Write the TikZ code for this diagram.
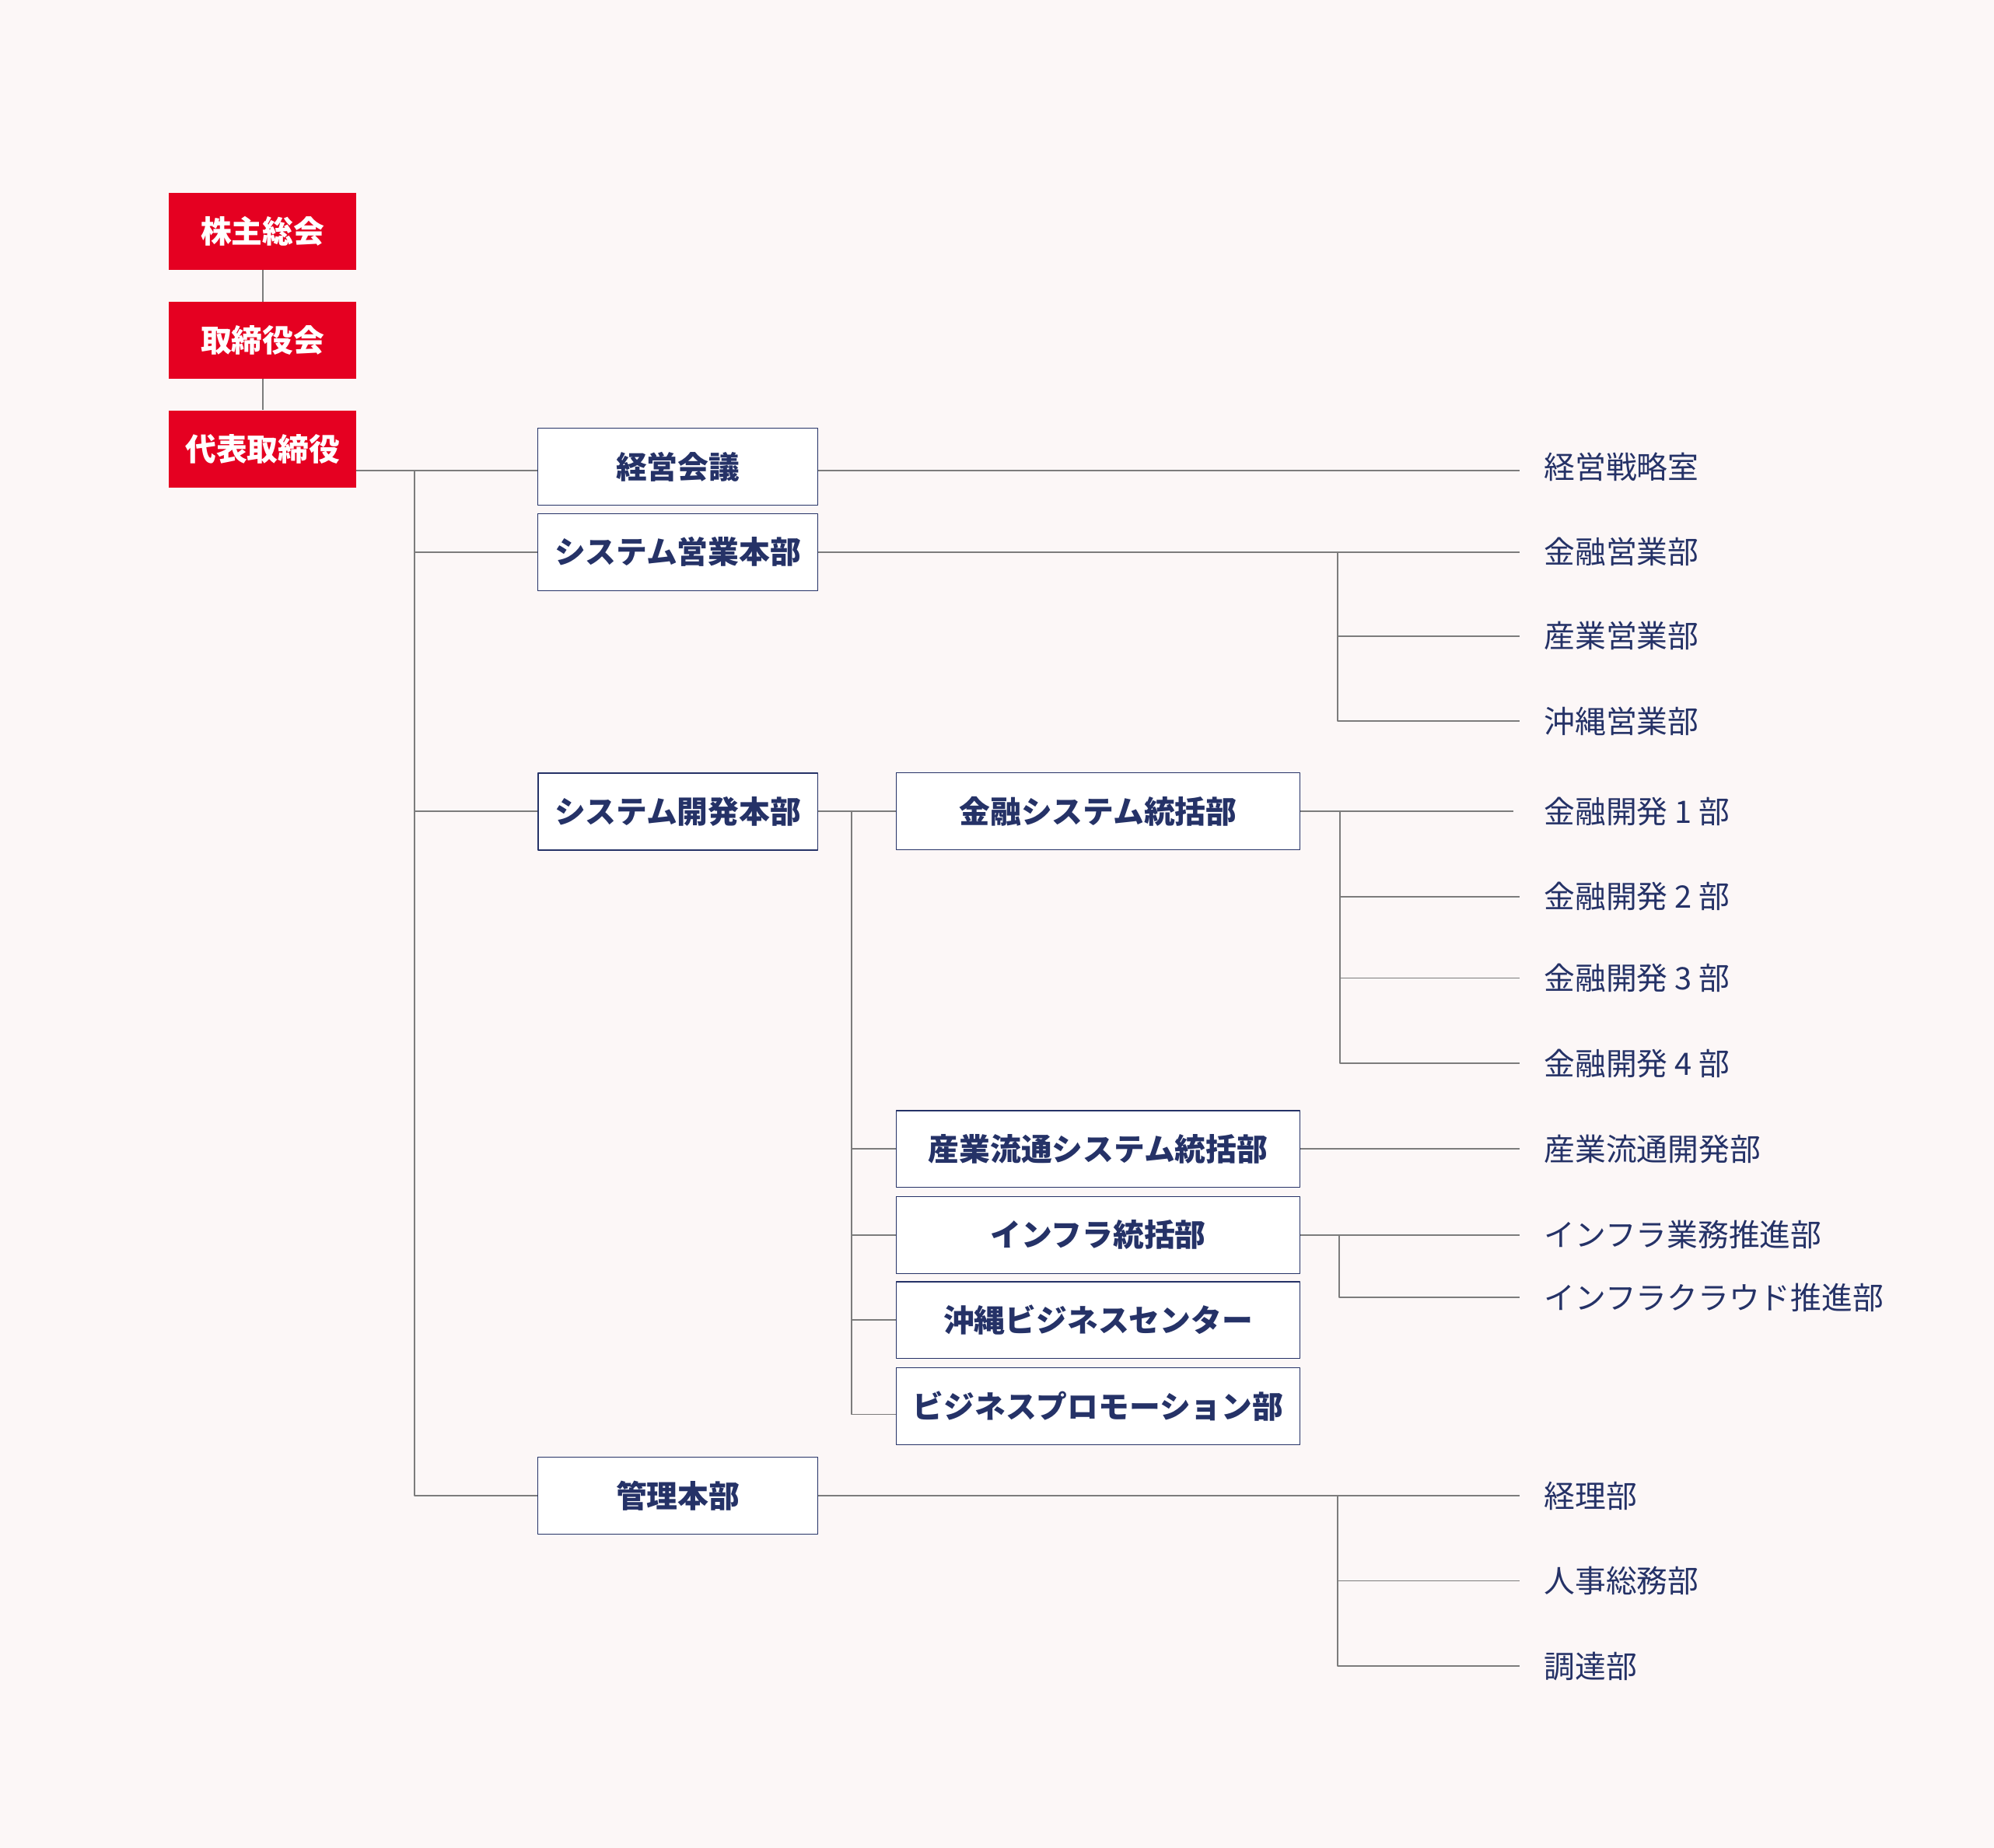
\documentclass[tikz,border=0pt]{standalone}
\usepackage{fontspec}
\setmainfont{Noto Sans CJK JP}
\definecolor{paper}{HTML}{FCF7F7}
\definecolor{corpred}{HTML}{E50021}
\definecolor{navy}{HTML}{253267}
\definecolor{linegray}{HTML}{7C7C7C}
\tikzset{
  topbox/.style={fill=corpred, text=white, inner sep=0pt,
    font=\bfseries\fontsize{17.3}{20}\selectfont,
    minimum width=3.675cm, minimum height=1.51cm},
  headbox/.style={draw=navy, fill=white, text=navy, line width=0.5pt, inner sep=0pt,
    font=\bfseries\fontsize{17.3}{20}\selectfont,
    minimum width=5.5cm, minimum height=1.51cm},
  subbox/.style={headbox, minimum width=7.925cm},
  dept/.style={anchor=west, text=navy, inner sep=0pt,
    font=\fontsize{17.3}{20}\selectfont},
  link/.style={draw=linegray, line width=0.8pt},
}
\begin{document}
\begin{tikzpicture}[x=0.025cm, y=-0.025cm, line join=round]
  \fill[paper] (0,0) rectangle (1568,1453);
  \useasboundingbox (0,0) rectangle (1568,1453);
  % board
  \node[topbox] (kabu) at (206.5,182) {株主総会};
  \node[topbox] (tori) at (206.5,267.5) {取締役会};
  \node[topbox] (daihyo) at (206.5,353) {代表取締役};
  \draw[link] (kabu) -- (tori);
  \draw[link] (tori) -- (daihyo);
  % head offices
  \node[headbox] (kaigi) at (533,367) {経営会議};
  \node[headbox] (eigyo) at (533,434) {システム営業本部};
  \node[headbox, line width=0.85pt] (kaihatsu) at (533,638) {システム開発本部};
  \node[headbox] (kanri) at (533,1176) {管理本部};
  \coordinate (t1) at (326,370);
  \draw[link] (daihyo.east |- t1) -- (kaigi.west |- t1);
  \draw[link] (t1) |- (kanri);
  \draw[link] (t1 |- eigyo) -- (eigyo);
  \draw[link] (t1 |- kaihatsu) -- (kaihatsu);
  % divisions
  \node[subbox] (kinsys) at (863.5,638) {金融システム統括部};
  \node[subbox] (sansys) at (863.5,903.5) {産業流通システム統括部};
  \node[subbox] (infra) at (863.5,971) {インフラ統括部};
  \node[subbox] (okisys) at (863.5,1038) {沖縄ビジネスセンター};
  \node[subbox] (promo) at (863.5,1105.5) {ビジネスプロモーション部};
  \coordinate (dj) at (669.5,638);
  \draw[link] (kaihatsu) -- (kinsys);
  \draw[link] (dj) |- ([yshift=-0.165cm]promo.west);
  \draw[link] (dj |- sansys) -- (sansys);
  \draw[link] (dj |- infra) -- (infra);
  \draw[link] (dj |- okisys) -- (okisys);
  % departments
  \node[dept] (senryaku) at (1214,367) {経営戦略室};
  \draw[link] (kaigi.east |- t1) -- ([xshift=-0.475cm]senryaku.west |- t1);
  \node[dept] (kinE) at (1214,434) {金融営業部};
  \node[dept] (sanE) at (1214,500) {産業営業部};
  \node[dept] (okiE) at (1214,567) {沖縄営業部};
  \coordinate (sj) at (1052,434);
  \draw[link] (eigyo) -- ([xshift=-0.475cm]kinE.west);
  \draw[link] (sj) |- ([xshift=-0.475cm]okiE.west);
  \draw[link] (sj |- sanE) -- ([xshift=-0.475cm]sanE.west);
  \node[dept] (kd1) at (1214,638) {金融開発 1 部};
  \node[dept] (kd2) at (1214,705) {金融開発 2 部};
  \node[dept] (kd3) at (1214,769) {金融開発 3 部};
  \node[dept] (kd4) at (1214,836) {金融開発 4 部};
  \coordinate (fj) at (1053.5,638);
  \draw[link] (kinsys) -- ([xshift=-0.6cm]kd1.west);
  \draw[link] (fj) |- ([xshift=-0.475cm]kd4.west);
  \draw[link] (fj |- kd2) -- ([xshift=-0.475cm]kd2.west);
  \draw[link] (fj |- kd3) -- ([xshift=-0.475cm]kd3.west);
  \node[dept] (sd) at (1214,903.5) {産業流通開発部};
  \draw[link] (sansys) -- ([xshift=-0.475cm]sd.west);
  \node[dept] (ib1) at (1214,971) {インフラ業務推進部};
  \node[dept] (ib2) at (1214,1020) {インフラクラウド推進部};
  \coordinate (ij) at (1053,971);
  \draw[link] (infra) -- ([xshift=-0.475cm]ib1.west);
  \draw[link] (ij) |- ([xshift=-0.475cm]ib2.west);
  \node[dept] (keiri) at (1214,1176) {経理部};
  \node[dept] (jinji) at (1214,1243) {人事総務部};
  \node[dept] (chotatsu) at (1214,1310) {調達部};
  \coordinate (mj) at (1052,1176);
  \draw[link] (kanri) -- ([xshift=-0.475cm]keiri.west);
  \draw[link] (mj) |- ([xshift=-0.475cm]chotatsu.west);
  \draw[link] (mj |- jinji) -- ([xshift=-0.475cm]jinji.west);
\end{tikzpicture}
\end{document}
